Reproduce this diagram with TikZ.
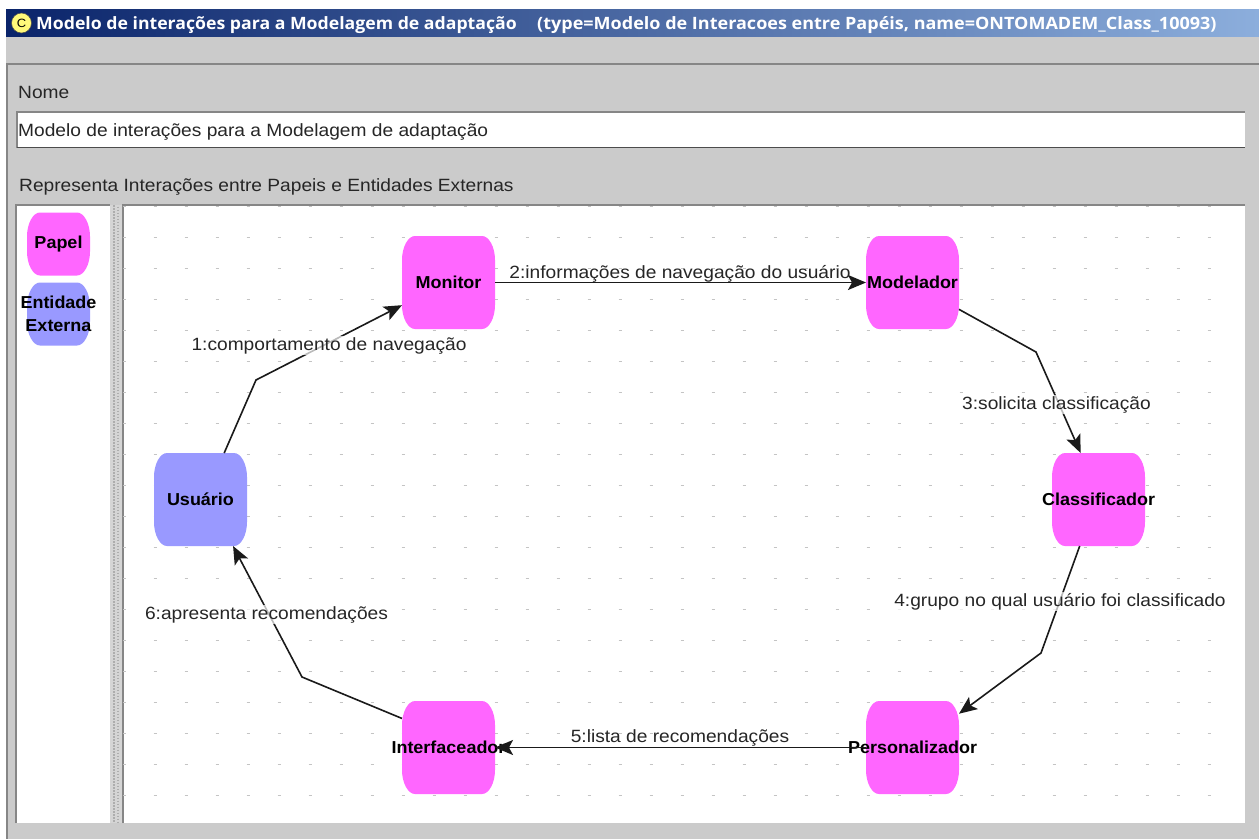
\documentclass[tikz,border=0pt]{standalone}
\usepackage{fontspec}
\setmainfont[FakeStretch=1.08]{Liberation Sans}
\newfontfamily\nodefont[FakeStretch=1.04]{Liberation Sans}
\newfontfamily\titlefonta[FakeStretch=1.04]{Open Sans}
\newfontfamily\titlefontb[FakeStretch=1.06]{Open Sans}
\usetikzlibrary{arrows.meta}
\definecolor{panelgray}{HTML}{CBCBCB}
\definecolor{edgegray}{HTML}{868686}
\definecolor{papel}{HTML}{FF66FF}
\definecolor{entidade}{HTML}{9999FF}
\definecolor{navy}{HTML}{0A246A}
\definecolor{skyend}{HTML}{8CAEDC}
\definecolor{dotgray}{HTML}{C4C4C4}
\definecolor{lineblack}{HTML}{1A1A1A}
\definecolor{iconyellow}{HTML}{FFF97A}
\newcommand{\ctr}[1]{\makebox[0pt][c]{#1}}
\tikzset{
  roundbox/.style 2 args={rectangle,minimum width=#2,minimum height=#2,inner sep=0pt,outer sep=0pt,
    font=\nodefont\fontsize{17.3}{23}\selectfont\bfseries,align=center,
    path picture={
      \fill[#1] ([yshift=-24pt]path picture bounding box.north west)
        .. controls +(0,-13) and +(-7,0) .. ++(13,-24)
        -- ([xshift=-13pt]path picture bounding box.north east)
        .. controls +(7,0) and +(0,-13) .. ++(13,24)
        -- ([yshift=24pt]path picture bounding box.south east)
        .. controls +(0,13) and +(7,0) .. ++(-13,24)
        -- ([xshift=13pt]path picture bounding box.south west)
        .. controls +(-7,0) and +(0,13) .. ++(-13,-24)
        -- cycle;
    }},
  edgeline/.style={draw=lineblack,line width=1.6pt},
  edgearrow/.style={edgeline,-{Stealth[length=18pt,width=15pt,inset=4pt]}},
  lblplain/.style={anchor=base,inner sep=1pt,font=\fontsize{17.75}{18}\selectfont,text=black!85},
  lbl/.style={lblplain,fill=white,fill opacity=.7,text opacity=1},
  uilbl/.style={anchor=base west,inner sep=0pt,font=\fontsize{17.75}{18}\selectfont,text=black!85},
  titletxt/.style={anchor=base west,inner sep=0pt,text=white,font=\fontsize{17}{18}\selectfont\bfseries},
  griddot/.style={draw=dotgray,line width=1pt}
}
\begin{document}
\begin{tikzpicture}[x=1pt,y=-1pt]
\useasboundingbox (0,0) rectangle (1259,839);
\fill[white] (0,0) rectangle (1259,839);
% window
\fill[panelgray] (6,36) rectangle (1259,839);
\shade[left color=navy,right color=skyend,shading angle=90,shading=axis] (6,9) rectangle (1259,36);
\draw[edgegray,line width=1.6pt] (6,64) -- (1259,64);
\draw[edgegray,line width=1.6pt] (7,64) -- (7,839);
% title
\fill[iconyellow,draw=black!70,line width=.5pt] (21.5,23) circle (10);
\node[anchor=center,inner sep=0pt,font=\fontsize{12}{12}\selectfont] (ticon) at (21.5,23) {C};
\node[titletxt] (t1) at (36,29) {\titlefonta Modelo de interações para a Modelagem de adaptação};
\node[titletxt] (t2) at (537,29) {\titlefontb (type=Modelo de Interacoes entre Papéis, name=ONTOMADEM\_Class\_10093)};
% name
\node[uilbl] (lnome) at (18,98) {Nome};
\fill[white] (17,112) rectangle (1245,148);
\draw[edgegray,line width=1.4pt] (17,148) -- (17,112) -- (1245,112);
\draw[black!70,line width=1pt] (17,147) -- (1245,147);
\node[uilbl] (vnome) at (18,136) {Modelo de interações para a Modelagem de adaptação};
\node[uilbl] (lrep) at (19,191) {Representa Interações entre Papeis e Entidades Externas};
% panels
\fill[white] (16,205) rectangle (110,823);
\fill[white] (123,205) rectangle (1245,823);
\fill[panelgray!80!white] (110,205) rectangle (123,823);
\draw[edgegray,line width=1.4pt] (16,823) -- (16,205) -- (110,205);
\draw[edgegray,line width=1.4pt] (123,823) -- (123,205) -- (1245,205);
\draw[black!32,line width=1.5pt,dash pattern=on 1.5pt off 1.5pt] (114,205) -- (114,823);
\draw[black!32,line width=1.5pt,dash pattern=on 1.5pt off 1.5pt] (118,206.5) -- (118,823);
% grid
\foreach \gx in {0,...,35}{
  \foreach \gy in {0,...,19}{
    \draw[griddot] ({124+31*\gx-1.5},{206+31*\gy}) -- ++(3,0);
  }
}
% palette
\node[roundbox={papel}{63}] (ppapel) at (58.5,244) {\ctr{Papel}};
\node[roundbox={entidade}{63}] (pentidade) at (58.5,314) {\ctr{Entidade}\\\ctr{Externa}};
% nodes
\node[roundbox={papel}{93}] (monitor) at (448.5,282.5) {\ctr{Monitor}};
\node[roundbox={papel}{93}] (modelador) at (912.5,282.5) {\ctr{Modelador}};
\node[roundbox={papel}{93}] (classificador) at (1098.5,499.5) {\ctr{Classificador}};
\node[roundbox={papel}{93}] (personalizador) at (912.5,747.5) {\ctr{Personalizador}};
\node[roundbox={papel}{93}] (interfaceador) at (448.5,747.5) {\ctr{Interfaceador}};
\node[roundbox={entidade}{93}] (usuario) at (200.5,499.5) {\ctr{Usuário}};
% bends
\coordinate (b1) at (256,380);
\coordinate (b3) at (1036,352);
\coordinate (b4) at (1041,653);
\coordinate (b6) at (302,677);
% edges
\draw[edgearrow] (usuario.63) -- (b1) -- (monitor.206.8);
\draw[edgearrow] (monitor.east) -- (modelador.west);
\draw[edgearrow] (modelador.-30.6) -- (b3) -- (classificador.111.7);
\draw[edgearrow] (classificador.248.3) -- (b4) -- (personalizador.36.4);
\draw[edgearrow] (personalizador.west) -- (interfaceador.east);
\draw[edgearrow] (interfaceador.148.5) -- (b6) -- (usuario.-55.9);
% labels
\node[lbl] (l1) at (329,350) {1:comportamento de navegação};
\node[lblplain] (l2) at (680,278) {2:informações de navegação do usuário};
\node[lbl] (l3) at (1056.5,409) {3:solicita classificação};
\node[lbl] (l4) at (1060,606) {4:grupo no qual usuário foi classificado};
\node[lblplain] (l5) at (680,742) {5:lista de recomendações};
\node[lbl] (l6) at (266.5,619) {6:apresenta recomendações};
\end{tikzpicture}
\end{document}
